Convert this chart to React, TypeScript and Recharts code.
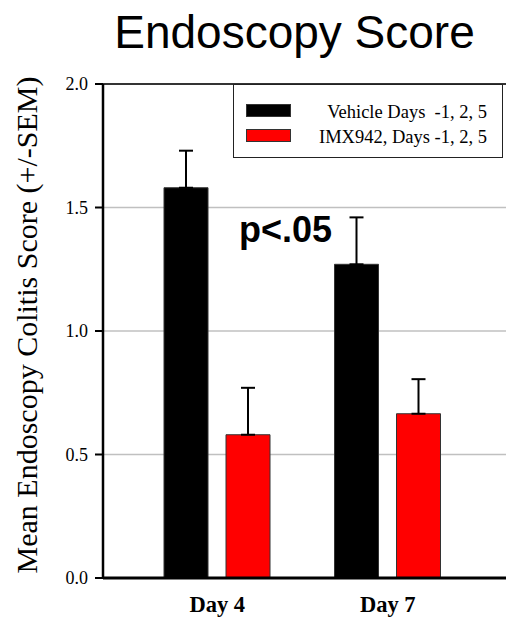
import React from 'react';
import { BarChart, Bar, XAxis, YAxis, CartesianGrid, ErrorBar, ReferenceLine } from 'recharts';

// Endoscopy colitis score per treatment group (mean, +SEM)
const days = ['Day 4', 'Day 7'];
const vehicleMean = [1.58, 1.27];
const vehicleSem = [0.15, 0.19];
const imxMean = [0.58, 0.665];
const imxSem = [0.19, 0.14];
const yTicks = [0, 0.5, 1.0, 1.5, 2.0];
const seriesNames = ['Vehicle Days  -1, 2, 5', 'IMX942, Days -1, 2, 5'];
const seriesColors = ['#000000', '#ff0000'];

const data = days.map((day, i) => ({
  day,
  vehicle: vehicleMean[i],
  vehicleErr: [0, vehicleSem[i]],
  imx: imxMean[i],
  imxErr: [0, imxSem[i]],
}));

const SERIF = '"Liberation Serif", "Times New Roman", serif';
const SANS = '"Liberation Sans", Arial, sans-serif';

const DayTick = (props: any) => {
  const { x, y, payload } = props;
  return (
    <text x={x} y={y + 26} textAnchor="middle" fontFamily={SERIF} fontWeight="bold" fontSize={22.5} fill="#000">
      {payload.value}
    </text>
  );
};

const LegendBox = () => (
  <div
    style={{
      position: 'absolute',
      left: 233,
      top: 84,
      width: 270,
      height: 74,
      boxSizing: 'border-box',
      border: '1px solid #222',
      background: '#fff',
      fontFamily: SERIF,
      fontSize: 18.5,
      color: '#000',
    }}
  >
    {seriesNames.map((name, i) => (
      <React.Fragment key={name}>
        <div
          style={{
            position: 'absolute',
            left: 12,
            top: i === 0 ? 19 : 44,
            width: 45,
            height: 13,
            background: seriesColors[i],
            border: '1px solid #333',
            boxSizing: 'border-box',
          }}
        />
        <div
          style={{
            position: 'absolute',
            right: 15,
            top: i === 0 ? 17 : 42,
            height: 20,
            lineHeight: '20px',
            whiteSpace: 'pre',
          }}
        >
          {name}
        </div>
      </React.Fragment>
    ))}
  </div>
);

export default function App() {
  return (
    <div style={{ position: 'absolute', left: 0, top: 0, width: 506, height: 619, background: '#fff' }}>
      <BarChart
        width={506}
        height={619}
        data={data}
        margin={{ top: 84, right: 0, bottom: 0, left: 43 }}
        barGap={18}
      >
        <CartesianGrid horizontal vertical={false} stroke="#c0c0c0" strokeWidth={1.5} />
        <ReferenceLine y={2} stroke="#000" strokeWidth={1.5} />
        <XAxis
          dataKey="day"
          height={41}
          padding={{ left: 29, right: 33 }}
          axisLine={{ stroke: '#000', strokeWidth: 3 }}
          tickLine={false}
          tick={<DayTick />}
        />
        <YAxis
          width={60}
          domain={[0, 2]}
          ticks={yTicks}
          tickFormatter={(v: number) => v.toFixed(1)}
          tick={{ fill: '#000', fontSize: 18, fontFamily: SERIF }}
          tickLine={{ stroke: '#000', strokeWidth: 2 }}
          tickSize={8}
          tickMargin={7}
          axisLine={{ stroke: '#000', strokeWidth: 2.5 }}
        />
        <Bar dataKey="vehicle" name={seriesNames[0]} fill={seriesColors[0]} stroke="#333" strokeWidth={1} barSize={44} isAnimationActive={false}>
          <ErrorBar dataKey="vehicleErr" direction="y" width={7} stroke="#000" strokeWidth={2} />
        </Bar>
        <Bar dataKey="imx" name={seriesNames[1]} fill={seriesColors[1]} stroke="#333" strokeWidth={1} barSize={44} isAnimationActive={false}>
          <ErrorBar dataKey="imxErr" direction="y" width={7} stroke="#000" strokeWidth={2} />
        </Bar>
      </BarChart>
      <svg
        width={506}
        height={619}
        style={{ position: 'absolute', left: 0, top: 0, pointerEvents: 'none' }}
      >
        <text x={294.5} y={48} textAnchor="middle" fontFamily={SANS} fontSize={46} fill="#000">
          Endoscopy Score
        </text>
        <text transform="translate(37,325) rotate(-90)" textAnchor="middle" fontFamily={SERIF} fontSize={30} fill="#000">
          Mean Endoscopy Colitis Score (+/-SEM)
        </text>
        <text x={239} y={242} fontFamily={SANS} fontWeight="bold" fontSize={36} fill="#000">
          p&lt;.05
        </text>
      </svg>
      <LegendBox />
    </div>
  );
}
